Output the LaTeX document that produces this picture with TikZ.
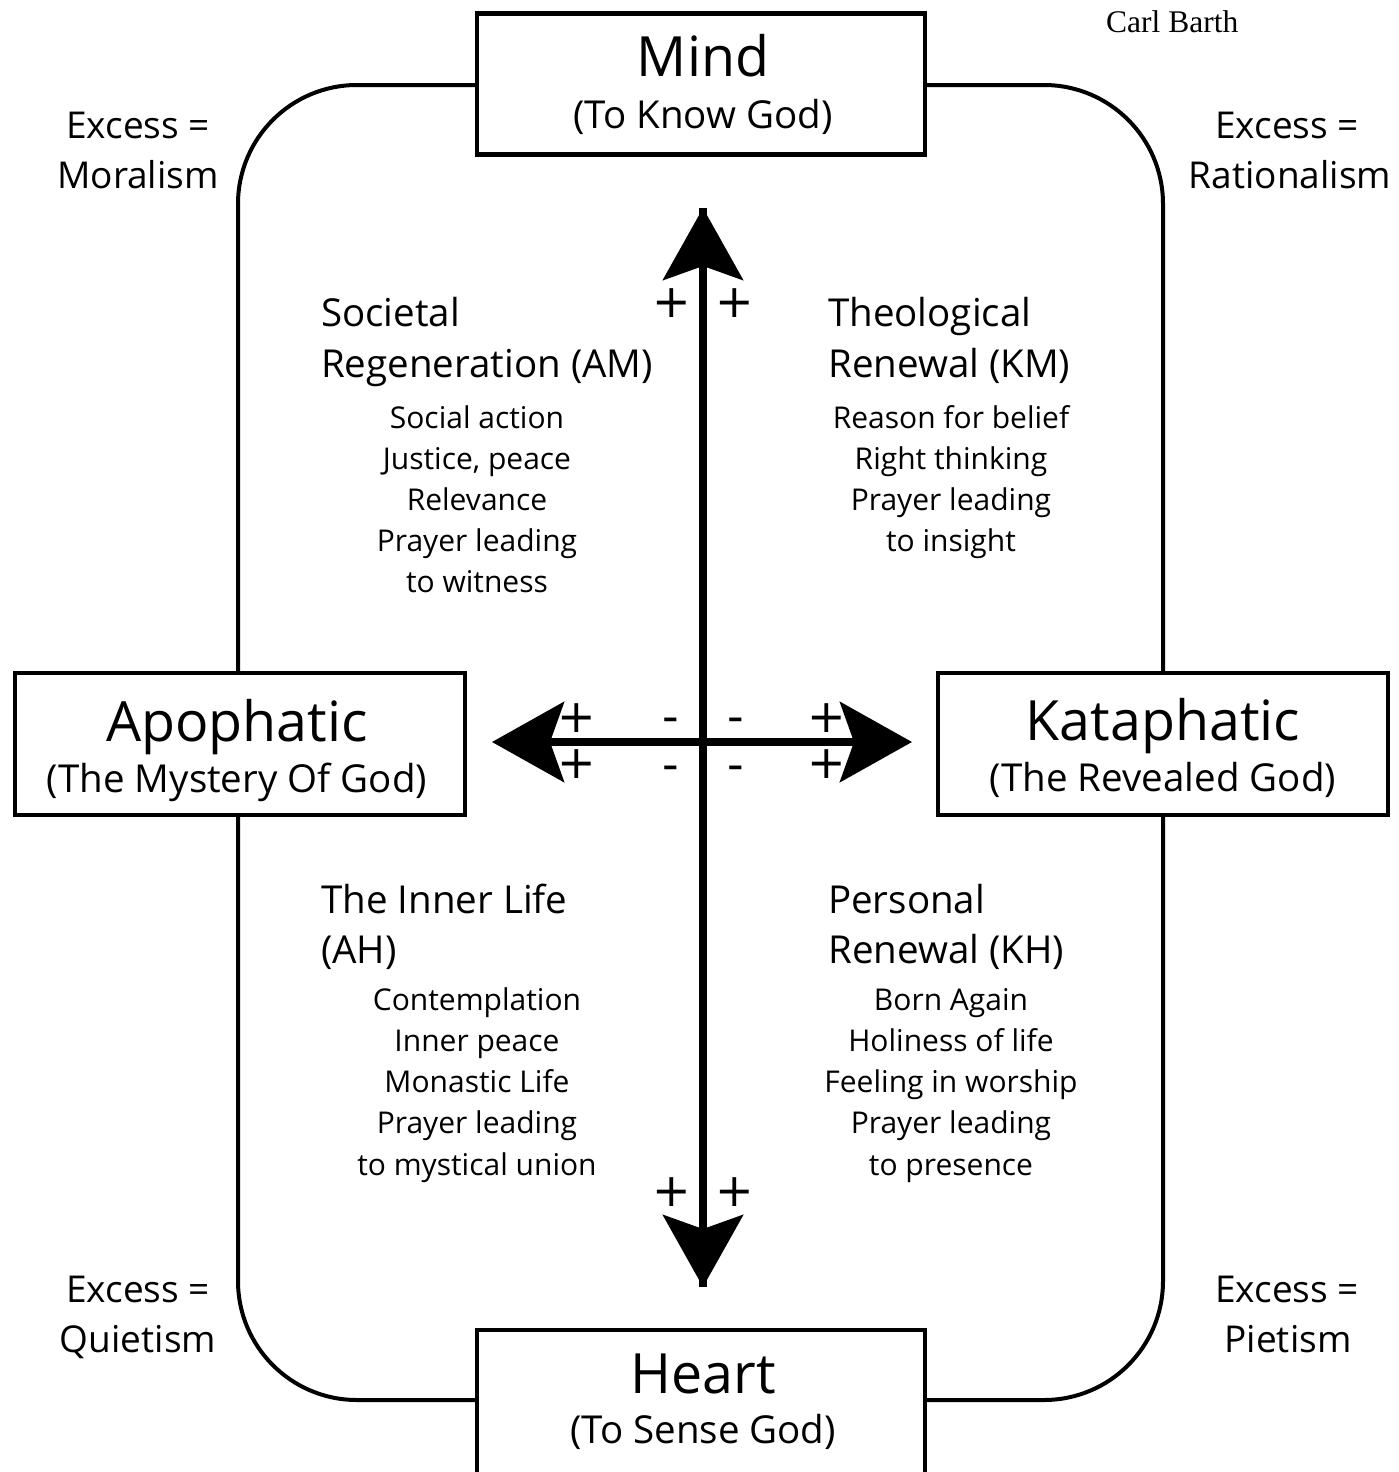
\documentclass[tikz,border=0pt]{standalone}
\usepackage{fontspec}
\setmainfont{Open Sans}
\newfontfamily\cbserif{Liberation Serif}
\newfontfamily\signfont{DejaVu Sans}
\usetikzlibrary{arrows.meta}
\tikzset{
  frame/.style={line width=4pt},
  box/.style={draw, line width=4.5pt, fill=white, inner sep=0pt},
  txt/.style={inner sep=0pt, anchor=base},
  txtl/.style={inner sep=0pt, anchor=base west},
  huge/.style={txt, font=\fontsize{55.5}{60}\selectfont},
  sub/.style={txt, font=\fontsize{38.5}{40}\selectfont},
  side/.style={txt, font=\fontsize{37}{40}\selectfont},
  qtitle/.style={txtl, font=\fontsize{38.5}{40}\selectfont},
  item/.style={txt, font=\fontsize{30}{34}\selectfont},
  sign/.style={inner sep=0pt, anchor=center, font=\signfont\fontsize{46}{48}\selectfont},
  bigtip/.tip={Stealth[length=72pt, width=80pt, inset=14pt]},
  axis/.style={line width=8pt}
}
\begin{document}
\begin{tikzpicture}[x=1pt, y=-1pt]
\useasboundingbox (0,0) rectangle (1399,1472);
\fill[white] (0,0) rectangle (1399,1472);

% outer rounded frame
\draw[frame, rounded corners=119pt] (238,85) rectangle (1163,1400);

% boxes
\node[box, minimum width=448pt, minimum height=141pt] (mindbox) at (701,84) {};
\node[box, minimum width=448pt, minimum height=170pt] (heartbox) at (701,1415) {};
\node[box, minimum width=450pt, minimum height=142pt] (apobox) at (240,744) {};
\node[box, minimum width=450pt, minimum height=142pt] (katabox) at (1163,744) {};

% box texts
\node[huge] (mind) at (703,77) {Mind};
\node[sub] (mindsub) at (703,128) {(To Know God)};
\node[huge] (heart) at (703,1393) {Heart};
\node[sub] (heartsub) at (703,1443) {(To Sense God)};
\node[huge] (apo) at (237,741) {Apophatic};
\node[sub] (aposub) at (237,792) {(The Mystery Of God)};
\node[huge] (kata) at (1163,740) {Kataphatic};
\node[sub] (katasub) at (1163,791) {(The Revealed God)};

% axes
\coordinate (top) at (703,208);
\coordinate (bot) at (703,1287);
\coordinate (lft) at (492,742);
\coordinate (rgt) at (912,742);
\draw[axis, {bigtip}-{bigtip}] (lft) -- (rgt);
\draw[axis, -{bigtip}] (bot) -- (top);
\draw[axis, -{bigtip}] (top) -- (bot);

% signs
\node[sign] (s1) at (672,303) {+};
\node[sign] (s2) at (735,303) {+};
\node[sign] (s3) at (672,1192) {+};
\node[sign] (s4) at (735,1192) {+};
\node[sign] (s5) at (577,718) {+};
\node[sign] (s6) at (577,764) {+};
\node[sign] (s7) at (827,718) {+};
\node[sign] (s8) at (827,764) {+};
\node[sign] (m1) at (671,725) {-};
\node[sign] (m2) at (671,773) {-};
\node[sign] (m3) at (736,725) {-};
\node[sign] (m4) at (736,773) {-};

% excess labels
\node[side] (e1) at (138,138) {Excess =};
\node[side] (e1b) at (138,188) {Moralism};
\node[side] (e2) at (1287,138) {Excess =};
\node[side] (e2b) at (1290,188) {Rationalism};
\node[side] (e3) at (138,1302) {Excess =};
\node[side] (e3b) at (138,1352) {Quietism};
\node[side] (e4) at (1287,1302) {Excess =};
\node[side] (e4b) at (1288,1352) {Pietism};

% quadrant AM
\node[qtitle] (am1) at (321,326) {Societal};
\node[qtitle] (am2) at (321,377) {Regeneration (AM)};
\node[item] (am3) at (477,428) {Social action};
\node[item] (am4) at (477,469) {Justice, peace};
\node[item] (am5) at (477,510) {Relevance};
\node[item] (am6) at (477,551) {Prayer leading};
\node[item] (am7) at (477,592) {to witness};

% quadrant KM
\node[qtitle] (km1) at (828,326) {Theological};
\node[qtitle] (km2) at (828,377) {Renewal (KM)};
\node[item] (km3) at (951,428) {Reason for belief};
\node[item] (km4) at (951,469) {Right thinking};
\node[item] (km5) at (951,510) {Prayer leading};
\node[item] (km6) at (951,551) {to insight};

% quadrant AH
\node[qtitle] (ah1) at (321,913) {The Inner Life};
\node[qtitle] (ah2) at (321,963) {(AH)};
\node[item] (ah3) at (477,1010) {Contemplation};
\node[item] (ah4) at (477,1051) {Inner peace};
\node[item] (ah5) at (477,1092) {Monastic Life};
\node[item] (ah6) at (477,1133) {Prayer leading};
\node[item] (ah7) at (477,1175) {to mystical union};

% quadrant KH
\node[qtitle] (kh1) at (828,913) {Personal};
\node[qtitle] (kh2) at (828,963) {Renewal (KH)};
\node[item] (kh3) at (951,1010) {Born Again};
\node[item] (kh4) at (951,1051) {Holiness of life};
\node[item] (kh5) at (951,1092) {Feeling in worship};
\node[item] (kh6) at (951,1133) {Prayer leading};
\node[item] (kh7) at (951,1175) {to presence};

% corner note
\node[inner sep=0pt, anchor=base west, font=\cbserif\fontsize{31.5}{34}\selectfont] (barth) at (1106,33) {Carl Barth};
\end{tikzpicture}
\end{document}
